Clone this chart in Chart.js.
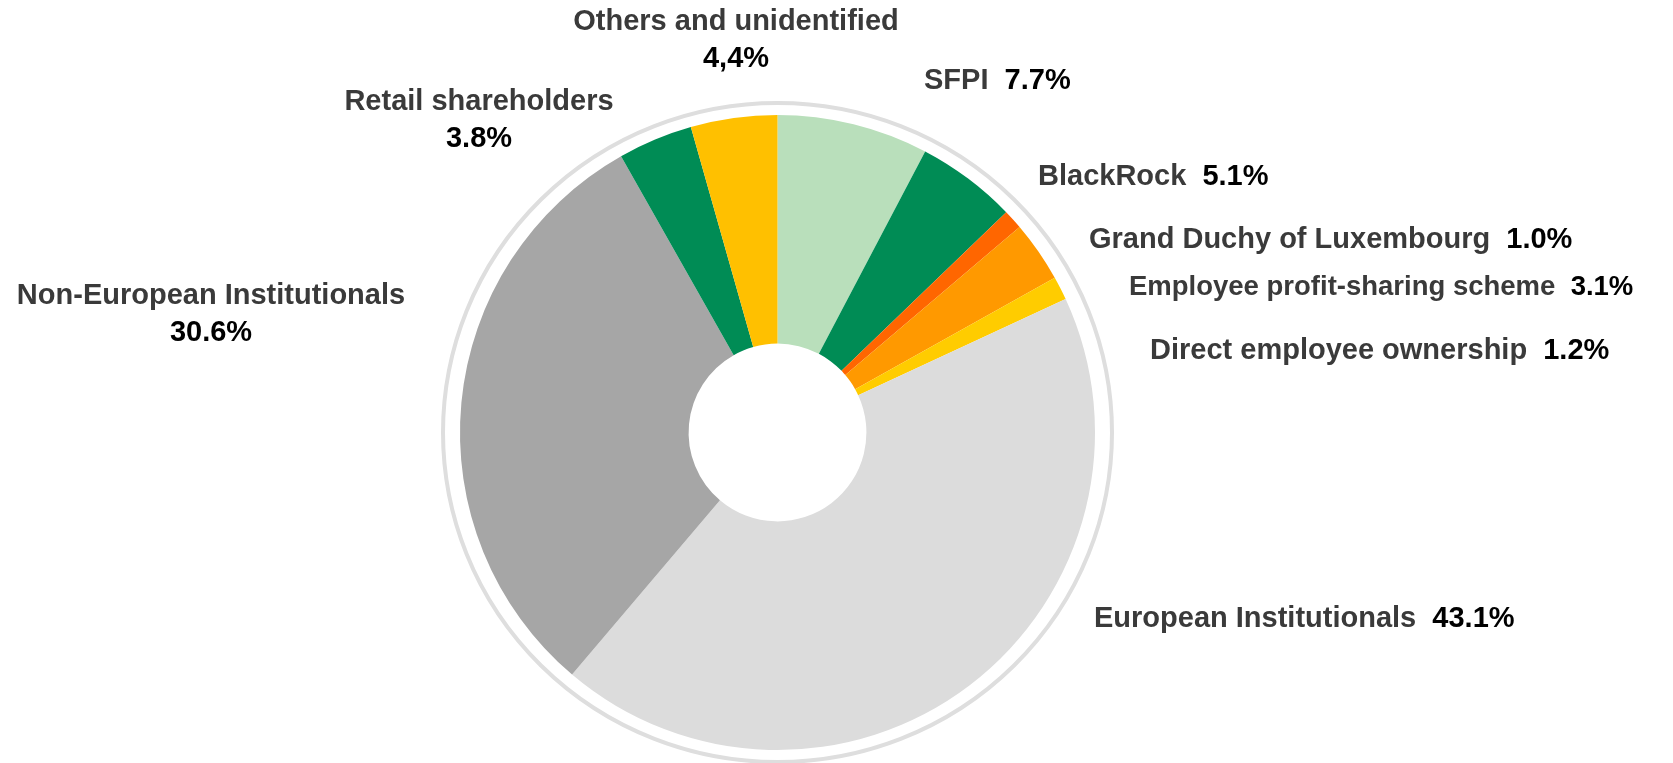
<!DOCTYPE html>
<html>
<head>
<meta charset="utf-8">
<title>Shareholder structure</title>
<script src="https://cdn.jsdelivr.net/npm/chart.js@4.4.1/dist/chart.umd.min.js"></script>
<style>
    html, body { margin: 0; padding: 0; background: #ffffff; }
    #wrap { position: relative; width: 1673px; height: 763px; }
</style>
</head>
<body>
<div id="wrap"><canvas id="shareChart" width="1673" height="763"></canvas></div>
<script>
"use strict";

// Shareholders, clockwise from 12 o'clock
var holders = [
    'SFPI',
    'BlackRock',
    'Grand Duchy of Luxembourg',
    'Employee profit-sharing scheme',
    'Direct employee ownership',
    'European Institutionals',
    'Non-European Institutionals',
    'Retail shareholders',
    'Others and unidentified'
];
var shares = [7.7, 5.1, 1.0, 3.1, 1.2, 43.1, 30.6, 3.8, 4.4];
var shareLabels = ['7.7%', '5.1%', '1.0%', '3.1%', '1.2%', '43.1%', '30.6%', '3.8%', '4,4%'];

var sliceColors = ['#b9dfbb', '#008c55', '#ff6600', '#ff9900', '#ffcc00', '#dcdcdc', '#a6a6a6', '#008c55', '#ffc000'];

// where each label sits: 'line' = name and value on one row (left edge x),
// 'stack' = name above value, both centred on x
var labelLayout = [
    { x: 924, y: 81, mode: 'line', size: 29 },
    { x: 1038, y: 177, mode: 'line', size: 29 },
    { x: 1089, y: 240, mode: 'line', size: 29 },
    { x: 1129, y: 287, mode: 'line', size: 27.5 },
    { x: 1150, y: 351, mode: 'line', size: 29 },
    { x: 1094, y: 619, mode: 'line', size: 29 },
    { x: 211, y: 296, mode: 'stack', size: 29 },
    { x: 479, y: 102, mode: 'stack', size: 29 },
    { x: 736, y: 22, mode: 'stack', size: 29 }
];

var ShareChart = function () {

    var fontFor = function (size) {
        return 'bold ' + size + 'px "Liberation Sans", Arial, sans-serif';
    };

    // thin grey ring round the pie (slightly wider than tall, as in the source)
    var outerRing = {
        id: 'outerRing',
        beforeDatasetsDraw: function (chart) {
            var arc = chart.getDatasetMeta(0).data[0];
            if (!arc) return;
            var ctx = chart.ctx;
            ctx.save();
            ctx.beginPath();
            ctx.ellipse(arc.x, arc.y, arc.outerRadius + 17, arc.outerRadius + 12, 0, 0, Math.PI * 2);
            ctx.lineWidth = 4;
            ctx.strokeStyle = '#dedede';
            ctx.stroke();
            ctx.restore();
        }
    };

    var sliceLabels = {
        id: 'sliceLabels',
        afterDatasetsDraw: function (chart) {
            var ctx = chart.ctx;
            ctx.save();
            ctx.textBaseline = 'middle';
            labelLayout.forEach(function (pos, i) {
                var name = holders[i];
                var value = shareLabels[i];
                ctx.font = fontFor(pos.size);
                if (pos.mode === 'line') {
                    ctx.textAlign = 'left';
                    ctx.fillStyle = '#3a3a3a';
                    ctx.fillText(name, pos.x, pos.y);
                    var w = ctx.measureText(name + '  ').width;
                    ctx.fillStyle = '#000000';
                    ctx.fillText(value, pos.x + w, pos.y);
                } else {
                    ctx.textAlign = 'center';
                    ctx.fillStyle = '#3a3a3a';
                    ctx.fillText(name, pos.x, pos.y);
                    ctx.fillStyle = '#000000';
                    ctx.fillText(value, pos.x, pos.y + 37);
                }
            });
            ctx.restore();
        }
    };

    var initChart = function () {
        var ctx = document.getElementById('shareChart');

        new Chart(ctx, {
            type: 'doughnut',
            data: {
                labels: holders,
                datasets: [{
                    data: shares,
                    backgroundColor: sliceColors,
                    borderWidth: 0
                }]
            },
            options: {
                responsive: false,
                animation: false,
                cutout: '28%',
                layout: {
                    padding: { top: 115, bottom: 13, left: 460, right: 578 }
                },
                plugins: {
                    legend: { display: false },
                    tooltip: { enabled: false }
                }
            },
            plugins: [outerRing, sliceLabels]
        });
    };

    return {
        init: function () {
            initChart();
        }
    };

}();

ShareChart.init();
</script>
</body>
</html>
